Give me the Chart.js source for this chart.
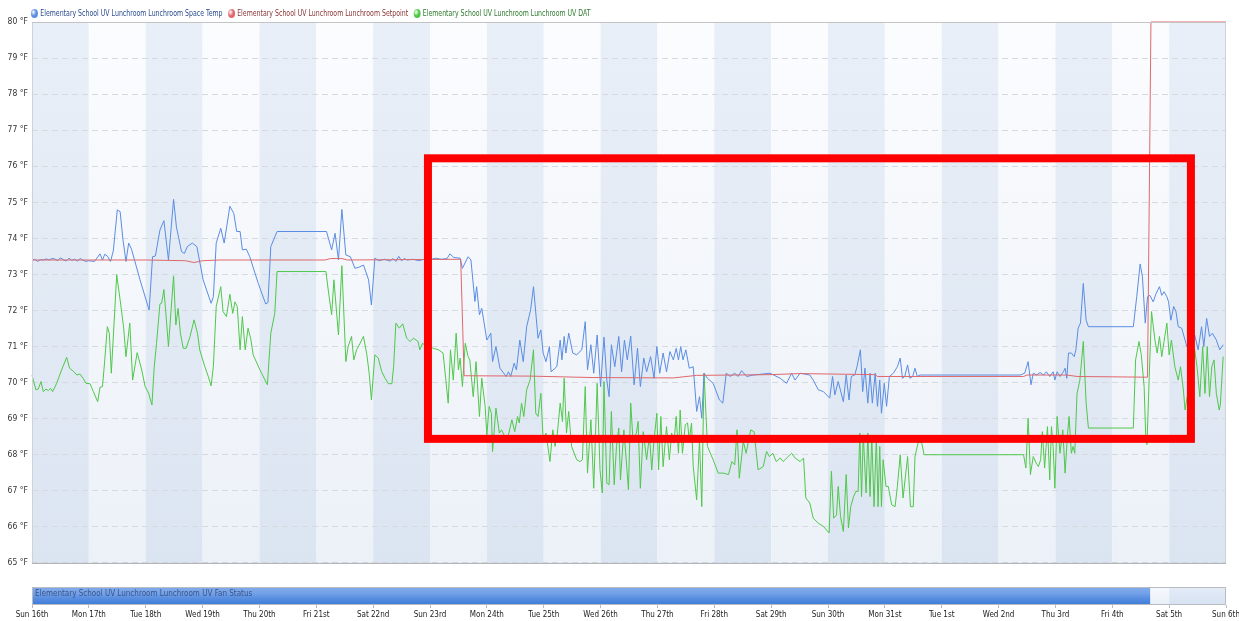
<!DOCTYPE html>
<html>
<head>
<meta charset="utf-8">
<title>Lunchroom UV trend</title>
<script src="https://cdn.jsdelivr.net/npm/chart.js@4.4.1/dist/chart.umd.min.js"></script>
<style>
  html,body{margin:0;padding:0;background:#fff;}
  #wrap{position:relative;width:1239px;height:621px;overflow:hidden;font-family:"DejaVu Sans Condensed","Liberation Sans Narrow","Liberation Sans",Arial,sans-serif;}
  #mainBox{position:absolute;left:0;top:0;width:1239px;height:572px;}
  #fanBox{position:absolute;left:0;top:572px;width:1239px;height:49px;}
  #legend{position:absolute;left:31px;top:8px;font-size:9px;white-space:nowrap;display:flex;align-items:center;gap:7px;transform:scaleX(0.77);transform-origin:0 50%;}
  #legend .it{display:flex;align-items:center;gap:3px;}
  #legend .dot{width:9px;height:9px;border-radius:50%;display:inline-block;}
</style>
</head>
<body>
<div id="wrap">
  <div id="mainBox"><canvas id="mainChart"></canvas></div>
  <div id="fanBox"><canvas id="fanChart"></canvas></div>
  <div id="legend"></div>
</div>
<script>
// ── dados (x = dias desde Sun 16th, y = °F) ─────────────
const dayLabels = ['Sun 16th','Mon 17th','Tue 18th','Wed 19th','Thu 20th','Fri 21st','Sat 22nd','Sun 23rd','Mon 24th','Tue 25th','Wed 26th','Thu 27th','Fri 28th','Sat 29th','Sun 30th','Mon 31st','Tue 1st','Wed 2nd','Thu 3rd','Fri 4th','Sat 5th','Sun 6th'];
const yTicks = [65,66,67,68,69,70,71,72,73,74,75,76,77,78,79,80];

const seriesNames = [
  'Elementary School UV Lunchroom Lunchroom Space Temp',
  'Elementary School UV Lunchroom Lunchroom Setpoint',
  'Elementary School UV Lunchroom Lunchroom UV DAT'
];
const fanName = 'Elementary School UV Lunchroom Lunchroom UV Fan Status';

const spaceTemp = [[0,73.38],[0.05,73.42],[0.1,73.36],[0.15,73.41],[0.2,73.40],[0.25,73.43],[0.3,73.40],[0.35,73.44],[0.4,73.43],[0.45,73.38],[0.5,73.46],[0.55,73.41],[0.6,73.37],[0.65,73.45],[0.7,73.39],[0.75,73.42],[0.8,73.37],[0.85,73.44],[0.9,73.39],[0.95,73.36],[0.99,73.38],
  [1.1,73.36],[1.196,73.57],[1.24,73.40],[1.28,73.56],[1.33,73.50],[1.38,73.36],[1.43,73.65],[1.50,74.79],[1.55,74.74],[1.6,73.96],[1.653,73.36],[1.7,73.87],[1.75,73.7],[1.90,72.85],[2.06,72.01],[2.12,73.49],[2.17,73.51],[2.25,74.23],[2.32,74.49],[2.40,73.40],[2.49,75.08],[2.54,74.32],[2.63,73.63],[2.68,73.58],[2.73,73.77],[2.82,73.87],[2.90,73.77],
  [3.01,72.85],[3.15,72.20],[3.19,72.38],[3.24,73.87],[3.32,74.28],[3.38,73.87],[3.48,74.89],[3.55,74.69],[3.60,74.19],[3.66,74.19],[3.70,73.68],[3.77,73.70],[3.83,73.49],[3.98,72.75],[4.11,72.18],[4.15,72.22],[4.20,73.77],[4.31,74.19],[5.18,74.19],[5.27,73.68],[5.33,74.14],[5.39,73.40],[5.45,74.80],[5.52,73.54],[5.6,73.49],[5.68,73.17],[5.75,73.2],[5.83,73.26],[5.92,72.85],[5.97,72.15],
  [6.03,73.45],[6.1,73.38],[6.2,73.42],[6.3,73.37],[6.35,73.44],[6.4,73.36],[6.45,73.5],[6.5,73.38],[6.55,73.44],[6.6,73.4],[6.7,73.42],[6.8,73.38],[6.9,73.42],[7.0,73.41],[7.1,73.45],[7.2,73.42],[7.3,73.44],[7.35,73.57],[7.42,73.47],[7.53,73.45],[7.57,73.17],[7.67,73.49],[7.72,73.40],[7.79,72.25],[7.82,72.66],[7.87,71.88],[7.91,72.06],
  [8.00,71.18],[8.07,71.37],[8.10,70.58],[8.16,71.0],[8.23,70.40],[8.34,70.17],[8.38,70.30],[8.42,70.17],[8.48,70.54],[8.52,70.35],[8.58,71.18],[8.64,70.58],[8.70,71.55],[8.77,72.02],[8.82,72.66],[8.90,71.23],[8.95,71.46],[8.99,70.82],[9.04,70.58],[9.10,71.0],[9.13,70.30],[9.23,70.44],[9.29,71.18],[9.32,70.63],[9.36,71.28],[9.39,70.82],[9.44,71.37],[9.51,70.82],[9.58,70.77],[9.67,70.91],[9.73,71.69],[9.77,70.35],[9.83,71.05],[9.88,70.26],[9.94,71.32],
  [10.00,69.89],[10.06,71.26],[10.11,70.07],[10.15,69.61],[10.19,71.05],[10.25,70.44],[10.32,71.28],[10.37,70.30],[10.42,71.18],[10.47,70.63],[10.53,71.29],[10.59,69.94],[10.65,70.95],[10.70,69.89],[10.76,70.68],[10.81,70.30],[10.88,70.72],[10.94,70.12],[10.99,71.0],[11.04,70.26],[11.10,70.82],[11.16,70.30],[11.22,70.86],[11.28,70.63],[11.33,70.95],[11.37,70.63],[11.41,71.0],[11.45,70.63],[11.50,70.91],[11.56,70.40],[11.63,70.44],[11.69,69.20],[11.74,69.61],[11.78,69.01],[11.82,70.26],[11.88,70.12],[11.98,69.98],
  [12.09,69.52],[12.15,69.43],[12.21,70.26],[12.28,70.17],[12.36,70.26],[12.42,70.17],[12.48,70.33],[12.57,70.17],[12.69,70.21],[12.98,70.26],[13.16,70.12],[13.27,69.98],[13.36,70.26],[13.42,70.07],[13.51,70.26],[13.68,70.21],[13.74,70.07],[13.83,69.80],[13.92,69.75],[14.03,69.57],[14.08,70.17],
  [14.12,69.66],[14.18,70.03],[14.27,69.47],[14.32,70.21],[14.37,69.52],[14.41,70.17],[14.47,70.21],[14.51,70.44],[14.57,70.91],[14.61,69.75],[14.65,70.40],[14.70,69.43],[14.74,70.26],[14.78,69.43],[14.83,70.26],[14.87,69.34],[14.91,70.07],[14.94,69.15],[14.99,69.98],[15.03,69.34],[15.08,70.17],[15.15,70.26],[15.22,70.44],[15.27,70.68],[15.31,70.12],[15.35,70.17],[15.40,70.49],[15.44,70.12],[15.49,70.17],[15.53,70.40],[15.57,70.17],[15.62,70.21],
  [17.38,70.21],[17.46,70.26],[17.52,70.58],[17.57,69.94],[17.61,70.26],[17.67,70.21],[17.73,70.28],[17.79,70.21],[17.84,70.30],[17.90,70.17],[17.96,70.30],[17.99,70.07],[18.03,70.30],[18.08,70.17],[18.14,70.30],[18.17,70.40],[18.20,70.12],[18.23,70.82],[18.28,70.82],[18.33,70.72],[18.36,70.91],[18.40,71.51],[18.44,71.65],[18.49,72.75],[18.54,71.73],[18.58,71.55],
  [19.37,71.55],[19.43,72.38],[19.49,73.29],[19.53,72.94],[19.58,71.65],[19.62,72.38],[19.66,72.42],[19.72,72.24],[19.77,72.47],[19.83,72.66],[19.87,72.42],[19.91,72.52],[19.96,72.38],[19.99,72.24],[20.03,71.73],[20.08,72.11],[20.12,71.97],[20.16,71.55],[20.22,71.51],[20.28,71.18],[20.31,71.0],[20.45,71.32],[20.51,70.91],[20.57,71.55],[20.61,71.0],[20.66,71.78],[20.71,71.28],[20.76,71.37],[20.83,71.18],[20.89,70.91],[20.95,71.05]];

const setpoint = [[0,73.40],[1.0,73.40],[2.0,73.40],[2.7,73.38],[2.85,73.33],[3.0,73.38],[3.3,73.40],[5.15,73.40],[5.25,73.44],[5.45,73.44],[5.55,73.40],[7.54,73.42],[7.60,70.19],[8.76,70.18],[9.87,70.14],[11.28,70.13],[11.69,70.20],[12.98,70.22],[13.51,70.25],[14.83,70.22],[14.87,70.17],[17.44,70.17],[17.5,70.21],[18.2,70.21],[18.38,70.17],[19.62,70.15],[19.68,80],[21,80]];

const uvDat = [[0,70.21],[0.023,70.07],[0.07,69.80],[0.11,69.82],[0.158,70.03],[0.199,69.75],[0.246,69.82],[0.287,69.78],[0.328,69.84],[0.363,69.75],[0.434,69.98],[0.52,70.35],[0.61,70.70],[0.66,70.40],[0.73,70.31],[0.79,70.21],[0.84,70.24],[0.90,70.12],[0.95,69.98],[1.02,69.97],[1.08,69.75],[1.155,69.47],[1.196,69.87],[1.24,69.89],[1.28,70.63],[1.325,71.55],[1.36,71.37],[1.395,70.26],[1.49,72.99],[1.55,72.29],[1.61,71.55],[1.653,70.72],[1.72,71.65],[1.77,70.07],[1.85,70.83],[1.93,70.35],[1.99,69.89],
  [2.05,69.71],[2.11,69.38],[2.15,70.44],[2.19,71.09],[2.25,72.18],[2.28,72.20],[2.32,72.58],[2.35,72.01],[2.40,71.0],[2.49,72.96],[2.53,71.60],[2.57,72.06],[2.61,71.37],[2.66,70.95],[2.71,70.95],[2.78,71.28],[2.85,71.74],[2.91,71.37],[2.95,70.91],[3.04,70.44],[3.10,70.17],[3.15,69.91],[3.19,70.44],[3.24,72.11],[3.32,72.66],[3.36,71.97],[3.42,71.83],[3.48,72.45],[3.53,71.92],[3.57,72.24],[3.61,72.11],[3.66,70.91],[3.70,71.83],[3.75,70.91],[3.80,71.51],[3.85,71.19],[3.89,70.77],[4.01,70.35],[4.14,69.94],[4.20,71.37],[4.27,71.92],[4.31,73.08],
  [5.17,73.08],[5.21,72.57],[5.27,71.88],[5.31,72.85],[5.39,71.32],[5.45,73.24],[5.52,70.58],[5.56,71.0],[5.62,71.28],[5.66,70.63],[5.71,70.91],[5.77,71.09],[5.83,71.28],[5.89,70.77],[5.93,70.26],[5.97,69.52],[6.03,70.77],[6.09,70.68],[6.15,70.31],[6.21,70.12],[6.27,69.97],[6.33,69.97],[6.36,70.44],[6.40,71.65],[6.46,71.51],[6.52,71.63],[6.59,71.23],[6.65,71.14],[6.71,71.23],[6.79,71.14],[6.82,70.91],[6.87,71.09],[6.94,71.0],
  [7.06,70.95],[7.15,70.91],[7.23,70.82],[7.32,69.43],[7.36,70.91],[7.41,70.07],[7.46,71.37],[7.50,70.35],[7.53,70.68],[7.57,69.89],[7.62,71.09],[7.67,70.72],[7.70,70.63],[7.76,69.61],[7.81,70.58],[7.87,69.06],[7.91,70.12],[7.97,69.34],[8.00,68.55],[8.04,69.34],[8.08,69.15],[8.10,68.09],[8.16,69.29],[8.22,68.60],[8.26,68.69],[8.34,68.41],[8.38,68.55],[8.44,68.97],[8.49,68.64],[8.54,69.06],[8.57,68.88],[8.61,69.43],[8.65,69.06],[8.70,69.80],[8.76,70.07],[8.82,70.91],[8.86,69.15],[8.90,69.06],[8.95,69.70],[8.99,68.41],
  [9.04,68.60],[9.11,67.81],[9.16,68.69],[9.20,68.23],[9.24,68.60],[9.29,69.43],[9.33,68.92],[9.36,70.12],[9.40,68.60],[9.44,69.20],[9.49,68.23],[9.58,67.86],[9.64,67.81],[9.68,67.86],[9.73,69.89],[9.77,67.49],[9.83,68.97],[9.88,67.07],[9.94,69.98],[9.99,67.58],[10.03,66.94],[10.06,70.03],[10.11,67.21],[10.15,67.17],[10.19,69.20],[10.24,67.17],[10.28,68.23],[10.32,68.74],[10.35,67.30],[10.41,68.69],[10.46,67.67],[10.49,67.03],[10.53,69.43],[10.57,68.41],[10.63,68.60],[10.66,68.92],[10.70,67.07],[10.75,68.64],[10.81,67.86],[10.86,68.55],[10.90,67.58],[10.94,68.41],[10.99,69.15],
  [11.02,67.58],[11.06,69.06],[11.10,67.67],[11.16,68.78],[11.21,67.86],[11.25,68.60],[11.29,68.32],[11.33,69.06],[11.37,68.04],[11.40,69.24],[11.44,68.04],[11.49,68.83],[11.53,68.88],[11.56,68.41],[11.60,68.88],[11.63,67.67],[11.69,66.75],[11.74,68.41],[11.78,66.56],[11.82,70.26],[11.88,68.23],[11.98,67.86],[12.07,67.49],[12.16,67.49],[12.25,67.45],[12.31,67.81],[12.36,67.72],[12.40,68.69],[12.44,67.35],[12.51,68.37],[12.56,68.04],[12.64,68.69],[12.70,68.64],[12.77,67.58],[12.86,67.67],[12.92,68.09],[12.97,67.95],
  [13.03,68.04],[13.09,67.81],[13.16,67.91],[13.21,67.81],[13.30,67.95],[13.36,68.04],[13.42,67.91],[13.51,67.81],[13.57,67.91],[13.61,66.80],[13.68,66.66],[13.74,66.24],[13.83,66.10],[13.92,66.01],[14.02,65.83],[14.06,67.54],[14.10,66.24],[14.15,66.33],[14.18,67.12],[14.22,66.29],[14.27,65.87],[14.32,67.45],[14.36,65.97],[14.40,66.56],[14.45,66.84],[14.49,66.98],[14.53,66.98],[14.56,68.60],[14.59,66.84],[14.62,68.55],[14.67,66.94],[14.70,68.60],[14.74,66.84],[14.77,68.51],[14.81,66.56],[14.85,68.51],[14.88,66.56],[14.91,68.23],[14.94,66.56],[14.97,67.86],
  [15.02,67.12],[15.06,67.12],[15.12,66.61],[15.18,66.56],[15.22,67.12],[15.27,68.0],[15.32,66.80],[15.40,67.95],[15.45,66.56],[15.50,66.56],[15.53,67.95],[15.59,68.37],[15.65,68.32],[15.69,68.0],[17.44,68.0],[17.48,67.63],[17.52,69.01],[17.56,67.45],[17.61,67.95],[17.66,67.77],[17.70,67.67],[17.74,67.86],[17.77,68.64],[17.81,67.63],[17.86,68.78],[17.90,67.30],[17.93,68.78],[17.96,68.23],[17.99,67.07],[18.03,69.06],[18.08,68.04],[18.13,68.69],[18.17,67.49],[18.21,68.51],[18.24,69.06],[18.28,68.04],[18.31,68.23],[18.34,68.04],[18.38,69.70],[18.43,70.07],[18.49,71.14],[18.54,69.43],[18.58,68.74],
  [19.37,68.74],[19.41,70.63],[19.47,71.14],[19.51,70.77],[19.56,69.89],[19.59,68.41],[19.61,68.28],[19.65,70.17],[19.69,71.97],[19.75,71.18],[19.79,70.82],[19.83,71.28],[19.87,70.72],[19.91,71.14],[19.96,71.65],[20.00,70.77],[20.04,71.18],[20.10,70.44],[20.16,70.07],[20.20,70.44],[20.25,69.80],[20.28,69.24],[20.45,70.91],[20.49,70.44],[20.54,69.61],[20.59,71.0],[20.63,69.70],[20.67,71.0],[20.71,69.61],[20.75,70.44],[20.79,70.63],[20.83,69.70],[20.88,69.24],[20.90,69.38],[20.95,70.72]];

// ventilador ligado (inicio, fim) em dias
const fanOn = [[0, 19.66]];

// caixa vermelha de destaque (dias / °F)
const highlightX = [6.964, 20.383];
const highlightY = [76.22, 68.44];

const COLORS = ['#5b8de3','#e0686c','#4fc84a'];
const LEGEND_TXT = ['#2a4b8d','#8a3434','#2d7a2d'];
const FONT = '"DejaVu Sans Condensed","Liberation Sans Narrow","Liberation Sans",Arial,sans-serif';

// ── legenda html ─────────────────────────────────────────
document.getElementById('legend').innerHTML = seriesNames.map((n,i)=>
  `<span class="it"><span class="dot" style="background:radial-gradient(circle at 35% 35%, #fff 0%, ${COLORS[i]} 45%, ${COLORS[i]} 100%)"></span><span style="color:${LEGEND_TXT[i]}">${n}</span></span>`
).join('');

const toXY = arr => arr.map(p=>({x:p[0], y:p[1]}));

// faixas verticais por dia (alternadas) com leve degradê
function dayBands(dark, light) {
  return {
    id:'dayBands',
    beforeDraw(chart){
      const {ctx, chartArea:a, scales:{x}} = chart;
      if(!a) return;
      const gd = ctx.createLinearGradient(0,a.top,0,a.bottom);
      gd.addColorStop(0,dark[0]); gd.addColorStop(1,dark[1]);
      const gl = ctx.createLinearGradient(0,a.top,0,a.bottom);
      gl.addColorStop(0,light[0]); gl.addColorStop(1,light[1]);
      ctx.save();
      for(let d=0; d<dayLabels.length-1; d++){
        const x0 = x.getPixelForValue(d), x1 = x.getPixelForValue(d+1);
        ctx.fillStyle = d%2===0 ? gd : gl;
        ctx.fillRect(x0, a.top, x1-x0, a.bottom-a.top);
      }
      ctx.restore();
    }
  };
}

const frame = {
  id:'frame',
  afterDatasetsDraw(chart){
    const {ctx, chartArea:a, scales:{x,y}} = chart;
    ctx.save();
    ctx.lineWidth = 1;
    ctx.strokeStyle = '#cfd3d8';
    ctx.beginPath();
    ctx.moveTo(a.left+0.5, a.top); ctx.lineTo(a.left+0.5, a.bottom);
    ctx.moveTo(a.right-0.5, a.top); ctx.lineTo(a.right-0.5, a.bottom);
    ctx.stroke();
    ctx.strokeStyle = '#c4c4c4';
    ctx.beginPath(); ctx.moveTo(a.left, a.top+0.5); ctx.lineTo(a.right, a.top+0.5); ctx.stroke();
    ctx.strokeStyle = '#a9adb3';
    ctx.beginPath(); ctx.moveTo(a.left, a.bottom+0.5); ctx.lineTo(a.right, a.bottom+0.5); ctx.stroke();
    // destaque vermelho
    const x0 = x.getPixelForValue(highlightX[0]), x1 = x.getPixelForValue(highlightX[1]);
    const y0 = y.getPixelForValue(highlightY[0]), y1 = y.getPixelForValue(highlightY[1]);
    ctx.strokeStyle = '#ff0000';
    ctx.lineWidth = 8;
    ctx.lineJoin = 'miter';
    ctx.strokeRect(x0, y0, x1-x0, y1-y0);
    ctx.restore();
  }
};

const lineDs = (i, data, order) => ({
  label: seriesNames[i], data: toXY(data),
  borderColor: COLORS[i], borderWidth: 1, pointRadius: 0, tension: 0, order, clip: 2
});

new Chart(document.getElementById('mainChart'), {
  type:'line',
  data:{ datasets:[ lineDs(1, setpoint, 0), lineDs(0, spaceTemp, 1), lineDs(2, uvDat, 2) ] },
  options:{
    responsive:true, maintainAspectRatio:false, animation:false,
    layout:{ padding:{ top:22, right:13, left:0, bottom:0 } },
    plugins:{ legend:{display:false}, tooltip:{enabled:false} },
    scales:{
      x:{ type:'linear', min:0, max:dayLabels.length-1,
          ticks:{display:false}, grid:{display:false}, border:{display:false},
          afterFit:s=>{ s.height = 9; } },
      y:{ min:yTicks[0], max:yTicks[yTicks.length-1],
          afterBuildTicks:s=>{ s.ticks = yTicks.map(v=>({value:v})); },
          ticks:{ color:'#333', font:{family:FONT, size:8.5}, padding:4, callback:v=>v+' °F' },
          grid:{ color:'#d6dae0', drawTicks:false },
          border:{ display:false, dash:[6,4] },
          afterFit:s=>{ s.width = 32; } }
    }
  },
  plugins:[ dayBands(['#e9eff8','#dbe5f1'], ['#fbfcfe','#ecf1f8']), frame ]
});

// ── barra de status do ventilador ───────────────────────
const fanTrack = {
  id:'fanTrack',
  afterDraw(chart){
    const {ctx, chartArea:a} = chart;
    ctx.save();
    ctx.strokeStyle = '#b9bdc3'; ctx.lineWidth = 1;
    ctx.strokeRect(a.left+0.5, a.top+0.5, a.right-a.left-1, a.bottom-a.top-1);
    ctx.fillStyle = '#3b5486';
    ctx.font = '8px '+FONT;
    ctx.textBaseline = 'middle';
    ctx.fillText(fanName, a.left+3, a.top + (a.bottom-a.top)/2 - 2);
    ctx.restore();
  }
};

new Chart(document.getElementById('fanChart'), {
  type:'bar',
  data:{
    labels:['fan'],
    datasets:[{
      label: fanName,
      data: fanOn,
      barPercentage:1, categoryPercentage:1, borderWidth:0, borderSkipped:false,
      backgroundColor: ctx=>{
        const a = ctx.chart.chartArea;
        if(!a) return '#5b8fe0';
        const g = ctx.chart.ctx.createLinearGradient(0,a.top,0,a.bottom);
        g.addColorStop(0,'#82abe9'); g.addColorStop(0.35,'#74a2e8'); g.addColorStop(0.55,'#5f93e2'); g.addColorStop(1,'#3c7bd8');
        return g;
      }
    }]
  },
  options:{
    indexAxis:'y', responsive:true, maintainAspectRatio:false, animation:false,
    layout:{ padding:{ top:15, left:32, right:13, bottom:0 } },
    plugins:{ legend:{display:false}, tooltip:{enabled:false} },
    scales:{
      x:{ type:'linear', min:0, max:dayLabels.length-1,
          afterBuildTicks:s=>{ s.ticks = dayLabels.map((_,i)=>({value:i})); },
          ticks:{ color:'#222', font:{family:FONT, size:8}, padding:2, maxRotation:0, autoSkip:false,
                  callback:v=>dayLabels[v] },
          grid:{ drawOnChartArea:false, tickLength:3, color:'#b9bdc3' },
          border:{display:false},
          afterFit:s=>{ s.height = 16; s.paddingLeft = 0; s.paddingRight = 0; } },
      y:{ display:false }
    }
  },
  plugins:[ dayBands(['#e4ecf7','#d6e2f2'], ['#f7f9fd','#e9eff8']), fanTrack ]
});
</script>
</body>
</html>
